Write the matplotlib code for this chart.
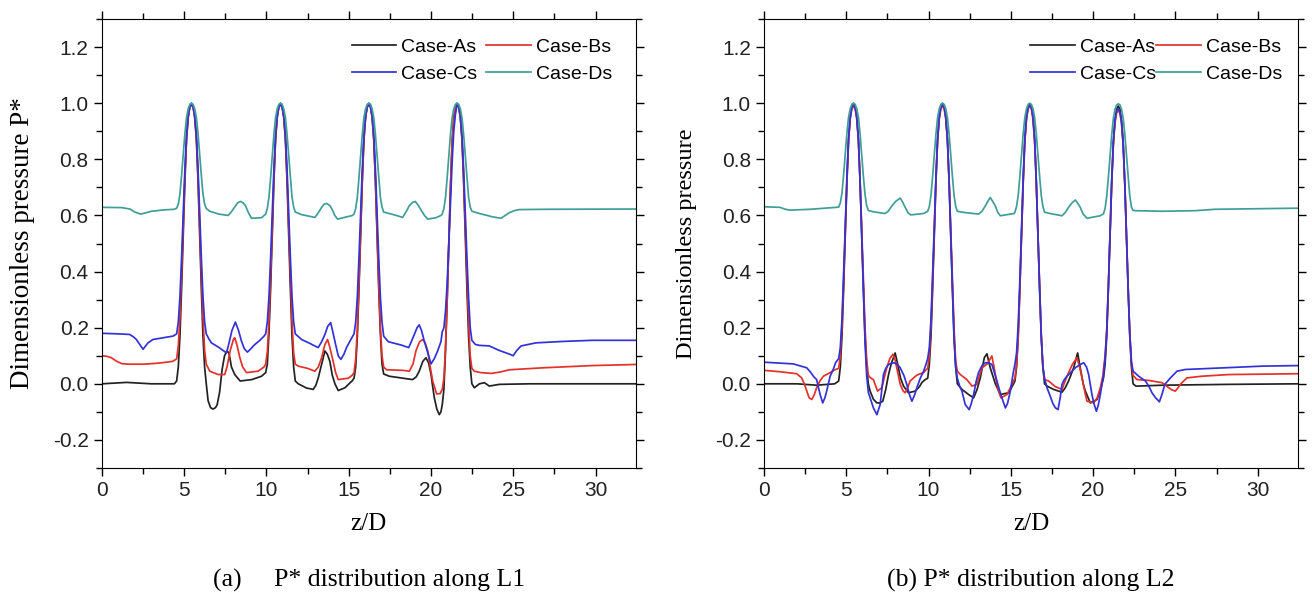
import numpy as np
import matplotlib
matplotlib.use("Agg")
from matplotlib import pyplot as plt
from matplotlib.ticker import MultipleLocator

plt.rcParams["axes.unicode_minus"] = False

# (z/D, P*) pairs, panel (a): along L1
case_a_l1 = [(0, 0.0), (1.5, 0.005), (3.0, 0.0), (4.4, 0.0),
             (4.54, 0.01), (4.64, 0.06), (4.74, 0.17), (4.84, 0.34), (4.94, 0.53), (5.04, 0.72), (5.14, 0.87),
             (5.24, 0.95), (5.34, 0.99), (5.44, 1.0), (5.54, 0.99), (5.64, 0.95), (5.74, 0.87), (5.84, 0.72),
             (5.94, 0.53), (6.04, 0.34), (6.14, 0.17), (6.24, 0.06), (6.34, 0.0),
             (6.45, -0.06), (6.6, -0.085), (6.75, -0.09), (6.9, -0.085), (7.0, -0.075), (7.15, -0.03), (7.3, 0.05),
             (7.45, 0.1), (7.6, 0.117), (7.72, 0.11), (7.87, 0.06), (8.07, 0.033), (8.4, 0.01), (9.1, 0.015),
             (9.7, 0.027), (9.85, 0.035),
             (9.95, 0.04), (10.05, 0.07), (10.15, 0.18), (10.25, 0.34), (10.35, 0.53), (10.45, 0.72), (10.55, 0.87),
             (10.65, 0.95), (10.75, 0.99), (10.85, 1.0), (10.95, 0.99), (11.05, 0.95), (11.15, 0.87), (11.25, 0.72),
             (11.35, 0.53), (11.45, 0.34), (11.55, 0.17), (11.65, 0.06), (11.75, 0.01),
             (11.93, 0.0), (12.43, -0.015), (12.84, -0.02), (13.0, -0.005), (13.14, 0.02), (13.35, 0.07),
             (13.55, 0.117), (13.7, 0.105), (13.85, 0.08), (14.0, 0.03), (14.16, 0.0), (14.36, -0.024),
             (14.77, -0.014), (15.1, 0.005), (15.2, 0.01),
             (15.32, 0.02), (15.42, 0.06), (15.52, 0.17), (15.62, 0.34), (15.72, 0.53), (15.82, 0.72), (15.92, 0.87),
             (16.02, 0.95), (16.12, 0.99), (16.22, 1.0), (16.32, 0.99), (16.42, 0.95), (16.52, 0.87), (16.62, 0.72),
             (16.72, 0.53), (16.82, 0.34), (16.92, 0.18), (17.02, 0.07), (17.12, 0.035),
             (17.46, 0.027), (18.27, 0.02), (18.88, 0.015), (19.1, 0.025), (19.28, 0.045), (19.5, 0.08),
             (19.69, 0.093), (19.85, 0.075), (20.0, 0.033), (20.1, -0.01), (20.2, -0.05), (20.35, -0.09),
             (20.5, -0.11), (20.6, -0.1),
             (20.68, -0.075), (20.78, -0.02), (20.88, 0.12), (20.98, 0.3), (21.08, 0.5), (21.18, 0.7), (21.28, 0.86),
             (21.38, 0.95), (21.48, 0.99), (21.58, 1.0), (21.68, 0.99), (21.78, 0.95), (21.88, 0.87), (21.98, 0.72),
             (22.08, 0.53), (22.18, 0.34), (22.28, 0.17), (22.38, 0.06), (22.48, 0.0),
             (22.63, -0.014), (22.94, 0.0), (23.24, 0.004), (23.54, -0.008), (24.15, -0.002), (26.0, 0.0), (32.5, 0.0)]

case_b_l1 = [(0, 0.1), (0.3, 0.098), (0.57, 0.093), (0.9, 0.08), (1.2, 0.072), (1.6, 0.07), (2.6, 0.07),
             (3.5, 0.074), (4.3, 0.08),
             (4.54, 0.089), (4.64, 0.135), (4.74, 0.236), (4.84, 0.391), (4.94, 0.565), (5.04, 0.739), (5.14, 0.876),
             (5.24, 0.949), (5.34, 0.986), (5.44, 0.995), (5.54, 0.986), (5.64, 0.949), (5.74, 0.876), (5.84, 0.739),
             (5.94, 0.565), (6.04, 0.391), (6.14, 0.236), (6.24, 0.12), (6.34, 0.07),
             (6.55, 0.045), (7.06, 0.033), (7.46, 0.033), (7.6, 0.06), (7.8, 0.12), (8.0, 0.16), (8.07, 0.164),
             (8.2, 0.14), (8.38, 0.093), (8.55, 0.06), (8.78, 0.04), (9.49, 0.045), (9.85, 0.06),
             (9.95, 0.07), (10.05, 0.115), (10.15, 0.22), (10.25, 0.38), (10.35, 0.56), (10.45, 0.735), (10.55, 0.875),
             (10.65, 0.95), (10.75, 0.986), (10.85, 0.995), (10.95, 0.986), (11.05, 0.95), (11.15, 0.875),
             (11.25, 0.735), (11.35, 0.56), (11.45, 0.38), (11.55, 0.22), (11.65, 0.11), (11.75, 0.07),
             (11.93, 0.063), (12.5, 0.055), (12.94, 0.045), (13.15, 0.06), (13.35, 0.093), (13.55, 0.14),
             (13.71, 0.158), (13.85, 0.13), (14.0, 0.093), (14.2, 0.04), (14.36, 0.015), (14.97, 0.02), (15.2, 0.03),
             (15.32, 0.04), (15.42, 0.09), (15.52, 0.195), (15.62, 0.36), (15.72, 0.54), (15.82, 0.73), (15.92, 0.87),
             (16.02, 0.95), (16.12, 0.986), (16.22, 0.995), (16.32, 0.986), (16.42, 0.95), (16.52, 0.87),
             (16.62, 0.73), (16.72, 0.54), (16.82, 0.36), (16.92, 0.2), (17.02, 0.1), (17.12, 0.06),
             (17.3, 0.05), (18.27, 0.048), (18.68, 0.045), (18.9, 0.07), (19.08, 0.117), (19.3, 0.15),
             (19.49, 0.158), (19.65, 0.145), (19.8, 0.117), (19.95, 0.06), (20.1, 0.01), (20.34, -0.036),
             (20.55, -0.035),
             (20.68, -0.02), (20.78, 0.02), (20.88, 0.13), (20.98, 0.3), (21.08, 0.5), (21.18, 0.7), (21.28, 0.86),
             (21.38, 0.945), (21.48, 0.985), (21.58, 0.995), (21.68, 0.986), (21.78, 0.95), (21.88, 0.875),
             (21.98, 0.735), (22.08, 0.56), (22.18, 0.38), (22.28, 0.22), (22.38, 0.1), (22.48, 0.055),
             (22.63, 0.045), (23.0, 0.04), (23.65, 0.037), (24.2, 0.042), (24.76, 0.05), (26.79, 0.057),
             (29.8, 0.065), (32.5, 0.069)]

case_c_l1 = [(0, 0.18), (1.0, 0.178), (1.68, 0.176), (1.9, 0.168), (2.09, 0.158), (2.3, 0.14), (2.5, 0.123),
             (2.65, 0.135), (2.8, 0.146), (3.1, 0.158), (4.32, 0.17),
             (4.54, 0.178), (4.64, 0.22), (4.74, 0.31), (4.84, 0.45), (4.94, 0.607), (5.04, 0.764), (5.14, 0.888),
             (5.24, 0.954), (5.34, 0.987), (5.44, 0.995), (5.54, 0.987), (5.64, 0.954), (5.74, 0.888), (5.84, 0.764),
             (5.94, 0.607), (6.04, 0.45), (6.14, 0.31), (6.24, 0.22), (6.34, 0.178),
             (6.5, 0.16), (6.65, 0.146), (7.1, 0.13), (7.57, 0.11), (7.7, 0.14), (7.9, 0.19), (8.11, 0.22),
             (8.3, 0.19), (8.48, 0.152), (8.65, 0.125), (8.84, 0.113), (9.05, 0.125), (9.29, 0.14), (9.6, 0.155),
             (9.85, 0.17),
             (9.95, 0.178), (10.05, 0.22), (10.15, 0.31), (10.25, 0.45), (10.35, 0.607), (10.45, 0.764),
             (10.55, 0.888), (10.65, 0.954), (10.75, 0.987), (10.85, 0.995), (10.95, 0.987), (11.05, 0.954),
             (11.15, 0.888), (11.25, 0.764), (11.35, 0.607), (11.45, 0.45), (11.55, 0.31), (11.65, 0.22),
             (11.75, 0.178),
             (11.9, 0.17), (12.13, 0.158), (12.6, 0.145), (13.14, 0.129), (13.35, 0.15), (13.55, 0.176),
             (13.72, 0.205), (13.9, 0.218), (14.05, 0.18), (14.2, 0.14), (14.36, 0.1), (14.52, 0.087),
             (14.7, 0.105), (14.87, 0.13), (15.1, 0.155), (15.22, 0.168),
             (15.32, 0.178), (15.42, 0.22), (15.52, 0.31), (15.62, 0.45), (15.72, 0.607), (15.82, 0.764),
             (15.92, 0.888), (16.02, 0.954), (16.12, 0.987), (16.22, 0.995), (16.32, 0.987), (16.42, 0.954),
             (16.52, 0.888), (16.62, 0.764), (16.72, 0.607), (16.82, 0.45), (16.92, 0.31), (17.02, 0.22),
             (17.12, 0.17),
             (17.4, 0.15), (17.66, 0.146), (18.2, 0.138), (18.64, 0.129), (18.8, 0.15), (18.98, 0.176),
             (19.15, 0.2), (19.28, 0.21), (19.42, 0.19), (19.59, 0.152), (19.8, 0.11), (20.0, 0.071),
             (20.2, 0.09), (20.4, 0.117), (20.6, 0.15),
             (20.68, 0.185), (20.78, 0.2), (20.88, 0.26), (20.98, 0.36), (21.08, 0.5), (21.18, 0.65), (21.28, 0.79),
             (21.38, 0.9), (21.48, 0.96), (21.58, 0.995), (21.68, 0.987), (21.78, 0.954), (21.88, 0.888),
             (21.98, 0.764), (22.08, 0.607), (22.18, 0.45), (22.28, 0.31), (22.38, 0.2), (22.48, 0.155),
             (22.7, 0.14), (22.94, 0.137), (23.54, 0.135), (24.1, 0.12), (24.56, 0.11), (24.8, 0.105),
             (24.99, 0.1), (25.2, 0.118), (25.47, 0.135), (26.38, 0.146), (28.0, 0.151), (29.8, 0.155),
             (32.5, 0.155)]

case_d_l1 = [(0, 0.629), (1.2, 0.628), (1.7, 0.623), (2.0, 0.612), (2.35, 0.605), (2.7, 0.61), (3.0, 0.615),
             (3.8, 0.62), (4.4, 0.622),
             (4.54, 0.626), (4.64, 0.64), (4.74, 0.676), (4.84, 0.743), (4.94, 0.817), (5.04, 0.891), (5.14, 0.949),
             (5.24, 0.98), (5.34, 0.996), (5.44, 1.0), (5.54, 0.996), (5.64, 0.98), (5.74, 0.949), (5.84, 0.891),
             (5.94, 0.817), (6.04, 0.743), (6.14, 0.676), (6.24, 0.64), (6.34, 0.625),
             (6.55, 0.615), (7.1, 0.605), (7.67, 0.6), (7.85, 0.612), (8.07, 0.63), (8.25, 0.645), (8.42, 0.65),
             (8.58, 0.645), (8.72, 0.635), (8.9, 0.61), (9.09, 0.59), (9.7, 0.592), (9.85, 0.6),
             (9.95, 0.605), (10.05, 0.625), (10.15, 0.665), (10.25, 0.735), (10.35, 0.812), (10.45, 0.888),
             (10.55, 0.948), (10.65, 0.98), (10.75, 0.996), (10.85, 1.0), (10.95, 0.996), (11.05, 0.98),
             (11.15, 0.948), (11.25, 0.888), (11.35, 0.812), (11.45, 0.735), (11.55, 0.665), (11.65, 0.63),
             (11.75, 0.612),
             (12.13, 0.603), (12.94, 0.593), (13.15, 0.61), (13.35, 0.629), (13.5, 0.64), (13.65, 0.643),
             (13.85, 0.635), (14.0, 0.62), (14.15, 0.6), (14.32, 0.587), (15.22, 0.6),
             (15.32, 0.605), (15.42, 0.625), (15.52, 0.665), (15.62, 0.735), (15.72, 0.812), (15.82, 0.888),
             (15.92, 0.948), (16.02, 0.98), (16.12, 0.996), (16.22, 1.0), (16.32, 0.996), (16.42, 0.98),
             (16.52, 0.948), (16.62, 0.888), (16.72, 0.812), (16.82, 0.735), (16.92, 0.665), (17.02, 0.63),
             (17.12, 0.612),
             (17.46, 0.607), (17.9, 0.6), (18.27, 0.593), (18.5, 0.615), (18.68, 0.635), (18.88, 0.647),
             (19.04, 0.65), (19.2, 0.638), (19.39, 0.62), (19.6, 0.6), (19.8, 0.587), (20.3, 0.592), (20.6, 0.6),
             (20.68, 0.605), (20.78, 0.625), (20.88, 0.665), (20.98, 0.735), (21.08, 0.812), (21.18, 0.888),
             (21.28, 0.948), (21.38, 0.98), (21.48, 0.996), (21.58, 1.0), (21.68, 0.996), (21.78, 0.98),
             (21.88, 0.948), (21.98, 0.888), (22.08, 0.812), (22.18, 0.735), (22.28, 0.665), (22.38, 0.63),
             (22.48, 0.615),
             (22.94, 0.607), (23.4, 0.6), (23.75, 0.595), (24.25, 0.59), (24.5, 0.6), (24.76, 0.61), (25.1, 0.618),
             (25.37, 0.621), (27.0, 0.622), (32.5, 0.623)]

# panel (b): along L2
case_a_l2 = [(0, 0.0), (2.0, 0.0), (3.2, -0.005), (4.3, 0.0),
             (4.54, 0.01), (4.64, 0.06), (4.74, 0.17), (4.84, 0.34), (4.94, 0.53), (5.04, 0.72), (5.14, 0.87),
             (5.24, 0.95), (5.34, 0.99), (5.44, 1.0), (5.54, 0.99), (5.64, 0.95), (5.74, 0.87), (5.84, 0.72),
             (5.94, 0.53), (6.04, 0.34), (6.14, 0.17), (6.24, 0.06), (6.34, 0.0),
             (6.45, -0.026), (6.65, -0.055), (6.86, -0.068), (7.05, -0.068), (7.22, -0.062), (7.4, -0.02),
             (7.57, 0.033), (7.75, 0.075), (7.83, 0.087), (7.97, 0.11), (8.05, 0.09), (8.17, 0.057), (8.3, 0.02),
             (8.48, -0.008), (8.78, -0.032), (9.19, -0.026), (9.45, -0.01), (9.6, 0.005), (9.8, 0.015),
             (9.95, 0.02), (10.05, 0.07), (10.15, 0.17), (10.25, 0.34), (10.35, 0.53), (10.45, 0.72), (10.55, 0.87),
             (10.65, 0.95), (10.75, 0.99), (10.85, 1.0), (10.95, 0.99), (11.05, 0.95), (11.15, 0.87), (11.25, 0.72),
             (11.35, 0.53), (11.45, 0.34), (11.55, 0.17), (11.65, 0.06), (11.75, 0.0),
             (12.03, -0.02), (12.43, -0.038), (12.74, -0.05), (12.95, -0.02), (13.14, 0.02), (13.39, 0.093),
             (13.55, 0.107), (13.75, 0.057), (14.06, 0.0), (14.36, -0.038), (14.87, -0.032), (15.17, 0.0),
             (15.25, 0.01), (15.35, 0.06), (15.45, 0.17), (15.55, 0.34), (15.65, 0.53), (15.75, 0.72), (15.85, 0.87),
             (15.95, 0.95), (16.05, 0.985), (16.15, 0.995), (16.25, 0.985), (16.35, 0.95), (16.45, 0.87),
             (16.55, 0.72), (16.65, 0.53), (16.75, 0.34), (16.85, 0.17), (16.95, 0.06), (17.05, 0.0),
             (17.2, -0.008), (17.6, -0.02), (18.11, -0.03), (18.3, -0.015), (18.51, 0.01), (18.82, 0.057),
             (19.06, 0.11), (19.22, 0.057), (19.4, 0.0), (19.53, -0.026), (19.83, -0.068), (20.24, -0.056),
             (20.45, -0.02), (20.58, 0.01),
             (20.63, 0.02), (20.73, 0.07), (20.83, 0.17), (20.93, 0.34), (21.03, 0.53), (21.13, 0.72), (21.23, 0.86),
             (21.33, 0.94), (21.43, 0.98), (21.53, 0.99), (21.63, 0.98), (21.73, 0.94), (21.83, 0.86), (21.93, 0.71),
             (22.03, 0.52), (22.13, 0.34), (22.23, 0.17), (22.33, 0.06), (22.43, 0.0),
             (22.6, -0.008), (22.77, -0.008), (24.19, -0.005), (28.25, -0.002), (32.5, 0.0)]

case_b_l2 = [(0, 0.048), (0.97, 0.043), (1.99, 0.036), (2.29, 0.021), (2.45, 0.0), (2.6, -0.026), (2.75, -0.05),
             (2.9, -0.056), (3.05, -0.04), (3.2, -0.014), (3.4, 0.01), (3.61, 0.027), (4.02, 0.04), (4.3, 0.05),
             (4.54, 0.055), (4.64, 0.1), (4.74, 0.205), (4.84, 0.366), (4.94, 0.546), (5.04, 0.725), (5.14, 0.867),
             (5.24, 0.943), (5.34, 0.98), (5.44, 0.99), (5.54, 0.98), (5.64, 0.943), (5.74, 0.867), (5.84, 0.725),
             (5.94, 0.546), (6.04, 0.366), (6.14, 0.2), (6.24, 0.09), (6.34, 0.03),
             (6.5, 0.02), (6.65, 0.015), (6.9, -0.026), (7.16, -0.014), (7.46, 0.057), (7.65, 0.09), (7.83, 0.105),
             (7.95, 0.09), (8.07, 0.057), (8.28, -0.002), (8.45, -0.025), (8.58, -0.032), (8.75, -0.01),
             (8.88, 0.01), (9.29, 0.031), (9.7, 0.04), (9.85, 0.05),
             (9.95, 0.055), (10.05, 0.1), (10.15, 0.205), (10.25, 0.366), (10.35, 0.546), (10.45, 0.725),
             (10.55, 0.867), (10.65, 0.943), (10.75, 0.98), (10.85, 0.99), (10.95, 0.98), (11.05, 0.943),
             (11.15, 0.867), (11.25, 0.725), (11.35, 0.546), (11.45, 0.366), (11.55, 0.2), (11.65, 0.08),
             (11.75, 0.045),
             (11.93, 0.033), (12.33, 0.015), (12.64, -0.008), (12.94, -0.002), (13.1, 0.03), (13.25, 0.057),
             (13.55, 0.07), (13.85, 0.099), (13.98, 0.06), (14.12, 0.01), (14.25, -0.025), (14.4, -0.05),
             (14.77, -0.038), (15.0, -0.01), (15.17, 0.01),
             (15.25, 0.02), (15.35, 0.07), (15.45, 0.17), (15.55, 0.34), (15.65, 0.53), (15.75, 0.71), (15.85, 0.86),
             (15.95, 0.94), (16.05, 0.98), (16.15, 0.99), (16.25, 0.98), (16.35, 0.94), (16.45, 0.86), (16.55, 0.71),
             (16.65, 0.53), (16.75, 0.34), (16.85, 0.17), (16.95, 0.06), (17.05, 0.015),
             (17.3, 0.01), (17.7, -0.01), (18.11, -0.02), (18.3, 0.01), (18.51, 0.04), (18.75, 0.07),
             (19.02, 0.093), (19.18, 0.06), (19.33, 0.021), (19.5, -0.03), (19.63, -0.062), (20.04, -0.068),
             (20.25, -0.05), (20.44, -0.014), (20.6, 0.03),
             (20.63, 0.05), (20.73, 0.1), (20.83, 0.19), (20.93, 0.35), (21.03, 0.53), (21.13, 0.71), (21.23, 0.85),
             (21.33, 0.93), (21.43, 0.965), (21.53, 0.974), (21.63, 0.965), (21.73, 0.93), (21.83, 0.85),
             (21.93, 0.71), (22.03, 0.52), (22.13, 0.34), (22.23, 0.18), (22.33, 0.07), (22.43, 0.03),
             (22.67, 0.015), (23.38, 0.012), (24.19, 0.004), (24.6, -0.014), (24.8, -0.022), (25.0, -0.026),
             (25.15, -0.015), (25.3, -0.002), (25.7, 0.021), (26.6, 0.027), (28.25, 0.033), (32.5, 0.036)]

case_c_l2 = [(0, 0.077), (1.78, 0.071), (2.6, 0.057), (2.85, 0.04), (3.0, 0.027), (3.2, 0.015), (3.3, -0.01),
             (3.41, -0.038), (3.57, -0.068), (3.7, -0.05), (3.81, -0.026), (4.02, 0.027), (4.2, 0.05), (4.35, 0.075),
             (4.54, 0.09), (4.64, 0.13), (4.74, 0.23), (4.84, 0.39), (4.94, 0.56), (5.04, 0.74), (5.14, 0.875),
             (5.24, 0.95), (5.34, 0.986), (5.44, 0.995), (5.54, 0.986), (5.64, 0.95), (5.74, 0.87), (5.84, 0.72),
             (5.94, 0.53), (6.04, 0.33), (6.14, 0.15), (6.24, 0.03), (6.34, -0.03),
             (6.45, -0.05), (6.65, -0.086), (6.86, -0.11), (7.06, -0.074), (7.26, 0.033), (7.4, 0.055),
             (7.57, 0.069), (7.87, 0.075), (8.1, 0.07), (8.28, 0.057), (8.5, 0.03), (8.68, -0.002), (8.85, -0.04),
             (8.99, -0.062), (9.15, -0.04), (9.29, -0.014), (9.5, 0.02), (9.7, 0.045), (9.85, 0.07),
             (9.95, 0.09), (10.05, 0.13), (10.15, 0.23), (10.25, 0.39), (10.35, 0.56), (10.45, 0.74), (10.55, 0.875),
             (10.65, 0.95), (10.75, 0.986), (10.85, 0.995), (10.95, 0.986), (11.05, 0.95), (11.15, 0.87),
             (11.25, 0.72), (11.35, 0.53), (11.45, 0.33), (11.55, 0.16), (11.65, 0.06), (11.75, 0.02),
             (11.9, -0.01), (12.03, -0.026), (12.23, -0.074), (12.47, -0.092), (12.6, -0.07), (12.74, -0.038),
             (12.9, 0.01), (13.04, 0.04), (13.25, 0.065), (13.45, 0.075), (13.65, 0.075), (13.85, 0.069),
             (14.0, 0.04), (14.16, 0.01), (14.3, -0.02), (14.46, -0.05), (14.67, -0.086), (14.8, -0.07),
             (14.97, -0.026), (15.15, 0.04),
             (15.25, 0.07), (15.35, 0.11), (15.45, 0.21), (15.55, 0.37), (15.65, 0.55), (15.75, 0.73), (15.85, 0.87),
             (15.95, 0.95), (16.05, 0.985), (16.15, 0.995), (16.25, 0.985), (16.35, 0.95), (16.45, 0.87),
             (16.55, 0.72), (16.65, 0.53), (16.75, 0.34), (16.85, 0.17), (16.95, 0.06), (17.05, 0.02),
             (17.2, -0.014), (17.4, -0.045), (17.54, -0.068), (17.7, -0.085), (17.87, -0.092), (18.0, -0.05),
             (18.11, -0.002), (18.25, 0.015), (18.41, 0.027), (18.92, 0.057), (19.2, 0.068), (19.43, 0.075),
             (19.6, 0.06), (19.73, 0.033), (19.85, -0.01), (19.93, -0.038), (20.05, -0.07), (20.2, -0.098),
             (20.32, -0.075), (20.44, -0.038), (20.55, 0.0),
             (20.63, 0.03), (20.73, 0.09), (20.83, 0.19), (20.93, 0.35), (21.03, 0.53), (21.13, 0.72), (21.23, 0.86),
             (21.33, 0.94), (21.43, 0.975), (21.53, 0.98), (21.63, 0.97), (21.73, 0.93), (21.83, 0.85), (21.93, 0.71),
             (22.03, 0.52), (22.13, 0.34), (22.23, 0.18), (22.33, 0.08), (22.43, 0.045),
             (22.77, 0.027), (23.18, 0.01), (23.4, -0.01), (23.58, -0.032), (23.8, -0.05), (24.03, -0.064),
             (24.2, -0.035), (24.36, -0.002), (24.7, 0.021), (25.1, 0.045), (25.6, 0.051), (27.2, 0.055),
             (30.3, 0.063), (32.5, 0.065)]

case_d_l2 = [(0, 0.631), (0.97, 0.629), (1.3, 0.622), (1.58, 0.619), (2.8, 0.622), (4.4, 0.629),
             (4.54, 0.63), (4.64, 0.645), (4.74, 0.68), (4.84, 0.745), (4.94, 0.82), (5.04, 0.893), (5.14, 0.95),
             (5.24, 0.98), (5.34, 0.996), (5.44, 1.0), (5.54, 0.996), (5.64, 0.98), (5.74, 0.95), (5.84, 0.89),
             (5.94, 0.815), (6.04, 0.74), (6.14, 0.675), (6.24, 0.635), (6.34, 0.618),
             (6.65, 0.613), (7.36, 0.607), (7.55, 0.615), (7.77, 0.634), (8.0, 0.65), (8.28, 0.662), (8.42, 0.648),
             (8.58, 0.629), (8.75, 0.61), (8.92, 0.602), (9.7, 0.607), (9.85, 0.612),
             (9.95, 0.615), (10.05, 0.632), (10.15, 0.672), (10.25, 0.74), (10.35, 0.815), (10.45, 0.89),
             (10.55, 0.948), (10.65, 0.98), (10.75, 0.996), (10.85, 1.0), (10.95, 0.996), (11.05, 0.98),
             (11.15, 0.948), (11.25, 0.89), (11.35, 0.815), (11.45, 0.74), (11.55, 0.672), (11.65, 0.632),
             (11.75, 0.615),
             (12.13, 0.611), (13.04, 0.605), (13.25, 0.615), (13.45, 0.634), (13.6, 0.65), (13.75, 0.664),
             (13.9, 0.65), (14.06, 0.634), (14.2, 0.612), (14.36, 0.599), (15.2, 0.607),
             (15.25, 0.612), (15.35, 0.632), (15.45, 0.672), (15.55, 0.74), (15.65, 0.815), (15.75, 0.89),
             (15.85, 0.948), (15.95, 0.98), (16.05, 0.996), (16.15, 1.0), (16.25, 0.996), (16.35, 0.98),
             (16.45, 0.948), (16.55, 0.89), (16.65, 0.815), (16.75, 0.74), (16.85, 0.672), (16.95, 0.632),
             (17.05, 0.612),
             (17.3, 0.608), (18.11, 0.599), (18.3, 0.61), (18.51, 0.629), (18.72, 0.645), (18.92, 0.655),
             (19.05, 0.645), (19.22, 0.629), (19.4, 0.605), (19.63, 0.59), (20.44, 0.599),
             (20.63, 0.606), (20.73, 0.625), (20.83, 0.67), (20.93, 0.737), (21.03, 0.81), (21.13, 0.885),
             (21.23, 0.945), (21.33, 0.978), (21.43, 0.994), (21.53, 0.998), (21.63, 0.994), (21.73, 0.978),
             (21.83, 0.946), (21.93, 0.888), (22.03, 0.815), (22.13, 0.74), (22.23, 0.67), (22.33, 0.63),
             (22.43, 0.618),
             (22.6, 0.617), (24.19, 0.615), (26.2, 0.617), (27.4, 0.622), (32.5, 0.626)]

labels = ["Case-As", "Case-Bs", "Case-Cs", "Case-Ds"]
colors = ["#222222", "#e3312b", "#3232d8", "#3f9e98"]
captions = ["(a)     P* distribution along L1", "(b) P* distribution along L2"]
ylabels = ["Dimensionless pressure P*", "Dimensionless pressure"]
ylabel_sizes = [19.5, 17.5]

panels = [[case_a_l1, case_b_l1, case_c_l1, case_d_l1],
          [case_a_l2, case_b_l2, case_c_l2, case_d_l2]]

fig = plt.figure(figsize=(13.12, 5.96), dpi=100)
axes = [fig.add_axes([0.0777, 0.2148, 0.407, 0.7532]),
        fig.add_axes([0.5823, 0.2148, 0.407, 0.7532])]

sans = "Liberation Sans"
serif = "Liberation Serif"

for i in range(2):
    ax = axes[i]
    lines = []
    for j in range(4):
        z, p = zip(*panels[i][j])
        ln, = ax.plot(z, p, color=colors[j], lw=1.25, label=labels[j])
        lines.append(ln)
    ax.set_xlim(0, 32.45)
    ax.set_ylim(-0.3, 1.3)
    ax.xaxis.set_major_locator(MultipleLocator(5))
    ax.xaxis.set_minor_locator(MultipleLocator(2.5))
    ax.yaxis.set_minor_locator(MultipleLocator(0.1))
    ax.set_yticks([-0.2, 0.0, 0.2, 0.4, 0.6, 0.8, 1.0, 1.2])
    ax.tick_params(which="both", direction="out", top=True, right=True, width=1.0)
    ax.tick_params(which="major", length=6)
    ax.tick_params(which="minor", length=4)
    for lab in ax.get_xticklabels() + ax.get_yticklabels():
        lab.set_fontfamily(sans)
        lab.set_fontsize(15)
        lab.set_color("#222222")
    ax.set_xlabel("z/D", fontfamily=serif, fontsize=18, labelpad=9)
    ax.set_ylabel(ylabels[i], fontfamily=serif, fontsize=ylabel_sizes[i], labelpad=13)
    ax.text(0.5, -0.25, captions[i], transform=ax.transAxes, ha="center", va="center",
            fontfamily=serif, fontsize=18.5)
    # row-wise legend: As Bs / Cs Ds
    order = [0, 2, 1, 3]
    if i == 0:
        anchor, colsp = (0.955, 0.958), 0.45
    else:
        anchor, colsp = (0.97, 0.958), 0.0
    ax.legend([lines[k] for k in order], [labels[k] for k in order], ncol=2, frameon=False,
              loc="upper right", bbox_to_anchor=anchor, prop={"family": sans, "size": 14},
              handlelength=2.3, columnspacing=colsp, handletextpad=0.25, labelspacing=0.5,
              borderpad=0.0, borderaxespad=0.0)

fig.savefig("out.png", dpi=100, facecolor="white")
